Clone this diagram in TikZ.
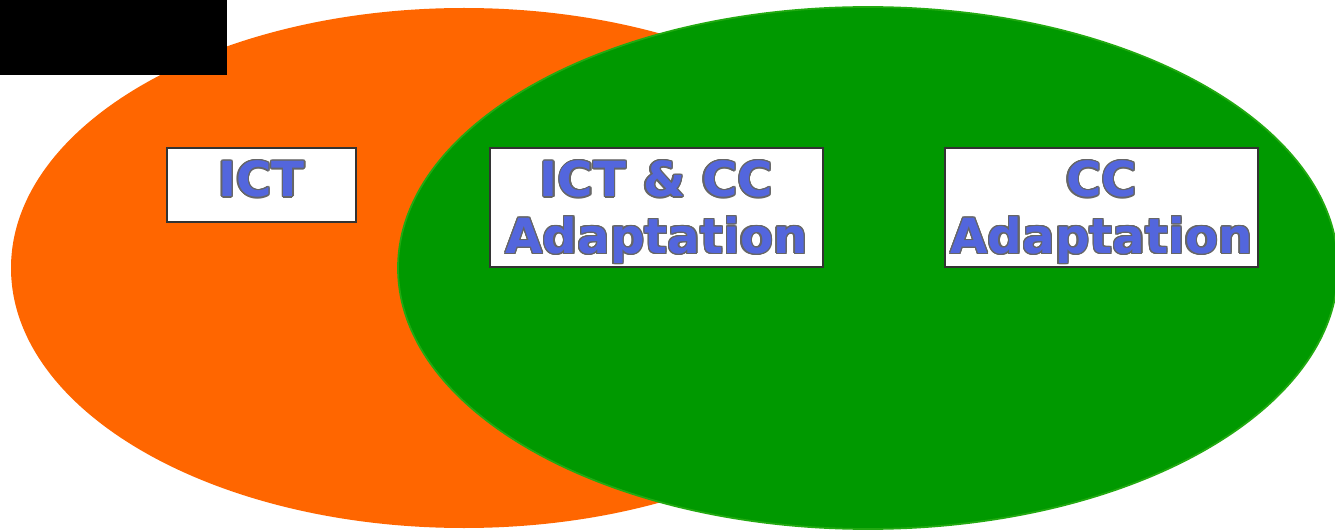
\documentclass[tikz,border=0pt]{standalone}
\usepackage{fontspec}
\setmainfont{DejaVu Sans}
\usepackage{contour}
\usetikzlibrary{positioning}

\definecolor{vennorange}{HTML}{FF6600}
\definecolor{venngreen}{HTML}{009900}
\definecolor{vennedge}{HTML}{22AA11}
\definecolor{lblblue}{HTML}{5366DD}
\definecolor{lblgray}{HTML}{666666}
\definecolor{boxedge}{HTML}{333333}
\contourlength{0.75pt}
\newcommand{\lbl}[1]{\contour{lblgray}{#1}}

\begin{document}
\begin{tikzpicture}[x=0.02cm, y=-0.02cm,
    labelbox/.style={draw=boxedge, line width=1.1pt, fill=white, inner sep=0pt},
    labeltext/.style={inner sep=0pt, align=center, text=lblblue, font=\bfseries\fontsize{27.5}{32.3}\selectfont}]

    \useasboundingbox (0,0) rectangle (1335,530);
    \clip (0,0) rectangle (1335,530);

    \fill[vennorange] (464,268) ellipse [x radius=453, y radius=260];
    \fill[black] (0,0) rectangle (227,75);
    \draw[fill=venngreen, draw=vennedge, line width=1pt] (868,268) ellipse [x radius=470, y radius=261];

    \node[labelbox, minimum width=3.78cm, minimum height=1.48cm] (ictbox) at (261.5,185) {};
    \node[labeltext, below=0.27cm of ictbox.north] (ictlbl) {\lbl{ICT}};

    \node[labelbox, minimum width=6.66cm, minimum height=2.38cm] (bothbox) at (656.5,207.5) {};
    \node[labeltext, below=0.27cm of bothbox.north] (bothlbl) {\lbl{ICT \& CC}\\\lbl{Adaptation}};

    \node[labelbox, minimum width=6.26cm, minimum height=2.38cm] (ccbox) at (1101.5,207.5) {};
    \node[labeltext, below=0.27cm of ccbox.north] (cclbl) {\lbl{CC}\\\lbl{Adaptation}};
\end{tikzpicture}
\end{document}
